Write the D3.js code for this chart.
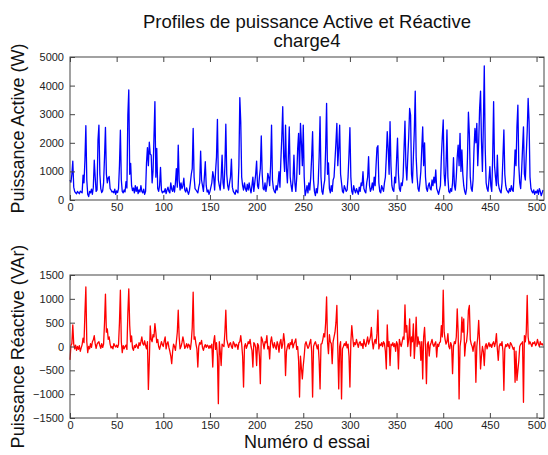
<!DOCTYPE html>
<html>
<head>
<meta charset="utf-8">
<script src="https://cdn.jsdelivr.net/npm/d3@7"></script>
<style>
  html, body { margin: 0; padding: 0; background: #fff; }
  svg { display: block; }
  text { font-family: "Liberation Sans", Arial, sans-serif; }
</style>
</head>
<body>
<svg id="chart" width="548" height="455"></svg>
<script>
// Active power per trial (W)
const activePower = [
  700, 620, 900, 1360, 450, 300, 250, 220, 300, 260,
  220, 310, 280, 250, 870, 600, 1400, 2600, 700, 200,
  120, 300, 250, 380, 200, 450, 1390, 800, 300, 350,
  2100, 2620, 900, 400, 260, 320, 600, 1500, 2540, 900,
  600, 780, 820, 400, 350, 280, 300, 250, 380, 200,
  320, 260, 400, 1200, 2440, 700, 300, 250, 350, 280,
  640, 420, 2970, 3850, 900, 1280, 500, 330, 420, 250,
  500, 300, 460, 220, 350, 280, 500, 300, 250, 380,
  200, 300, 1300, 1830, 1200, 2020, 1600, 1570, 600, 1000,
  2200, 3440, 800, 1800, 400, 300, 500, 1140, 350, 250,
  300, 280, 400, 220, 350, 450, 300, 250, 600, 380,
  300, 500, 280, 600, 1100, 450, 1920, 700, 350, 600,
  400, 500, 760, 350, 280, 420, 300, 200, 330, 600,
  900, 1100, 2500, 800, 400, 350, 300, 250, 450, 600,
  1710, 700, 500, 300, 800, 1340, 500, 280, 350, 200,
  300, 450, 600, 990, 800, 350, 1000, 1500, 2820, 700,
  500, 350, 800, 1570, 600, 400, 1200, 2650, 900, 500,
  350, 600, 800, 1430, 450, 300, 250, 200, 350, 300,
  250, 1200, 3580, 2740, 800, 500, 350, 600, 400, 300,
  550, 350, 600, 400, 250, 500, 800, 300, 600, 900,
  1360, 500, 400, 800, 1100, 2240, 900, 400, 350, 600,
  300, 500, 930, 800, 500, 1200, 2620, 700, 400, 300,
  250, 500, 350, 600, 990, 450, 1400, 2200, 3260, 1500,
  1000, 2620, 1100, 600, 1500, 2560, 800, 500, 300, 700,
  1570, 600, 300, 800, 1800, 2330, 900, 2680, 2000, 1200,
  2620, 800, 150, 300, 500, 250, 600, 350, 800, 1500,
  2390, 700, 300, 150, 400, 250, 600, 1500, 2910, 800,
  300, 200, 500, 700, 1800, 3380, 900, 1300, 400, 250,
  500, 300, 700, 800, 1400, 2000, 2680, 1200, 1800, 2620,
  900, 600, 300, 250, 500, 400, 300, 350, 800, 1600,
  2530, 800, 300, 200, 500, 350, 250, 400, 300, 200,
  450, 300, 600, 500, 990, 400, 300, 250, 600, 800,
  1520, 500, 300, 400, 600, 350, 800, 500, 1200, 1830,
  1900, 600, 300, 250, 500, 400, 300, 600, 800, 1500,
  2390, 1800, 900, 2740, 1200, 500, 350, 300, 800, 600,
  1400, 2160, 900, 400, 300, 600, 500, 800, 1800, 2760,
  1200, 700, 1500, 2200, 3200, 2970, 900, 600, 1500, 2400,
  3810, 1500, 800, 400, 300, 600, 1000, 1800, 2560, 1200,
  2000, 800, 400, 300, 500, 600, 400, 350, 700, 500,
  800, 600, 1050, 400, 300, 200, 350, 500, 1500, 2200,
  2800, 900, 500, 1200, 2450, 800, 300, 250, 400, 300,
  600, 1480, 500, 350, 800, 1500, 1920, 1200, 2330, 1000,
  1750, 900, 500, 300, 200, 400, 1500, 3070, 2330, 800,
  400, 300, 700, 1800, 2500, 2000, 2680, 1200, 2000, 3200,
  3810, 2040, 1000, 2600, 4690, 1800, 600, 400, 300, 700,
  1170, 500, 300, 1500, 3440, 1200, 800, 500, 1570, 600,
  400, 300, 250, 600, 1500, 2450, 900, 500, 350, 300,
  250, 400, 300, 500, 350, 300, 900, 1750, 1200, 2560,
  3320, 1200, 600, 400, 1000, 1800, 2560, 900, 700, 1600,
  2400, 3550, 2740, 800, 400, 300, 250, 350, 200, 300,
  250, 350, 200, 400, 300, 150, 250, 350
];

// Reactive power per trial (VAr)
const reactivePower = [
  -280, 20, 60, 455, 50, -50, 30, -80, 0, -60,
  20, -100, -30, 40, 175, 80, 700, 1250, 100, -130,
  0, -50, 60, -20, 100, 140, 230, 60, -40, 50,
  80, 100, 20, -40, 60, -20, 50, 500, 1100, 300,
  370, 150, 200, 50, -30, 0, -50, 60, 20, -10,
  30, -20, 40, 500, 1180, 100, -130, 20, -50, 0,
  30, -60, 700, 1210, 440, 100, 220, -30, -80, 20,
  -20, 50, 0, -40, 80, 20, 100, 200, 60, 30,
  120, 20, -50, 100, -900, -300, 430, 150, 100, 250,
  200, 480, 300, 80, 150, 0, -60, 20, 100, 40,
  0, 120, 200, -50, 60, 100, -20, -100, -200, -360,
  -100, 50, 0, -80, 100, 300, 760, 200, -50, 0,
  80, 200, 100, -40, 0, 60, -30, 50, 20, -60,
  100, 400, 1140, 150, 200, 50, -50, -430, 0, 80,
  50, 130, -20, -80, 0, 40, -20, 30, 10, -40,
  20, -30, 50, -430, 100, 230, -60, 80, -200, -1200,
  100, -100, -400, 50, 20, 0, 300, 760, 150, 60,
  -20, 50, 80, 0, -40, 100, 60, -10, 50, 30,
  -60, 80, 100, 230, 50, -200, -850, 0, 60, -40,
  20, 100, 60, 150, 0, -80, -430, 80, 50, -20,
  -400, 60, 20, -200, -780, 200, 150, 60, -50, 100,
  80, 230, -50, 0, -260, 100, 200, 50, -30, 80,
  0, -60, 100, 40, -120, 80, 150, -40, 50, 270,
  100, -610, -100, 0, 60, -50, 80, 40, 150, -30,
  50, 100, 160, -60, 0, -300, -1060, -200, -450, -680,
  -400, -200, 50, 100, 20, -40, 0, 80, 150, -100,
  -1060, 0, 60, 100, 30, -50, 40, -300, -890, 50,
  60, 150, 270, 200, 500, 1040, 100, -150, 250, 100,
  60, -360, 100, 200, 300, 500, 860, -50, -890, 0,
  100, -1100, -50, 0, 60, 20, 100, -30, 50, -200,
  -850, 100, 440, 200, 0, 80, 40, 150, 60, -20,
  80, 100, 20, 60, -40, 150, 50, 0, 100, 200,
  50, 120, 200, 400, 100, -50, 80, 150, 60, 270,
  760, -50, 50, 20, 80, 0, 100, 60, -100, -470,
  455, 0, 100, -400, 50, 20, 80, 0, 60, -100,
  100, 50, -470, 150, 60, 0, 100, 200, 150, 875,
  300, 440, 0, 150, 580, -200, 200, 100, 475, -250,
  100, 615, 0, 200, 50, 100, -290, 100, -680, 200,
  400, 0, -780, 50, 100, -200, 20, 80, 150, 40,
  0, 60, 100, -220, 50, 0, 80, 100, 440, 200,
  1180, 300, 150, 50, 100, 270, 0, -50, 80, 20,
  -570, 0, 100, 60, 200, 790, 300, -1100, 0, 150,
  615, 300, 580, -200, 50, 100, 300, 760, 860, 150,
  50, 0, -100, 60, 100, -750, 0, 200, 550, 100,
  -470, -200, 0, -100, -400, 0, 60, -50, 20, 80,
  0, 50, -20, 60, 100, 0, 80, 270, -50, -290,
  0, 60, 20, 100, -100, -920, -50, 40, 0, 60,
  20, -40, 80, 50, 0, -60, -20, -750, -100, -710,
  -500, -300, 0, 50, 60, 100, -1170, 230, 100, 300,
  1070, 200, 50, 100, 50, 0, 80, 60, 100, 20,
  50, 150, 60, 0, 100, 40, 60, 20
];

const trialTicks = [0, 50, 100, 150, 200, 250, 300, 350, 400, 450, 500];
const activeTicks = [0, 1000, 2000, 3000, 4000, 5000];
const reactiveTicks = [-1500, -1000, -500, 0, 500, 1000, 1500];

const titleLines = ["Profiles de puissance Active et Réactive", "charge4"];
const activeLabel = "Puissance Active (W)";
const reactiveLabel = "Puissance Réactive (VAr)";
const trialLabel = "Numéro d essai";

const svg = d3.select("#chart");
const left = 70, right = 544;
const axisColor = "#444";
const tickLen = 5;
const fmt = d3.format("d");

const x = d3.scaleLinear().domain([0, 508]).range([left, right]);

function panel(values, yDomain, yTicks, top, bottom, color, ylabel) {
  const y = d3.scaleLinear().domain(yDomain).range([bottom, top]);
  const g = svg.append("g");

  // data trace
  const line = d3.line().x((d, i) => x(i)).y(d => y(d));
  g.append("path")
    .datum(values)
    .attr("fill", "none")
    .attr("stroke", color)
    .attr("stroke-width", 1.3)
    .attr("stroke-linejoin", "round")
    .attr("d", line);

  // bottom axis with labels, inward ticks
  const xb = g.append("g").attr("transform", `translate(0,${bottom})`)
    .call(d3.axisBottom(x).tickValues(trialTicks).tickFormat(fmt)
      .tickSizeInner(-tickLen).tickSizeOuter(0).tickPadding(3));
  // top axis, ticks only
  const xt = g.append("g").attr("transform", `translate(0,${top})`)
    .call(d3.axisTop(x).tickValues(trialTicks).tickSizeInner(-tickLen).tickSizeOuter(0).tickFormat(""));
  // left axis with labels
  const yl = g.append("g").attr("transform", `translate(${left},0)`)
    .call(d3.axisLeft(y).tickValues(yTicks).tickFormat(fmt)
      .tickSizeInner(-tickLen).tickSizeOuter(0).tickPadding(6));
  // right axis, ticks only
  const yr = g.append("g").attr("transform", `translate(${right},0)`)
    .call(d3.axisRight(y).tickValues(yTicks).tickSizeInner(-tickLen).tickSizeOuter(0).tickFormat(""));

  [xb, xt, yl, yr].forEach(a => {
    a.select(".domain").remove();
    a.selectAll("line").attr("stroke", axisColor);
    a.selectAll("text").attr("font-size", 11).attr("fill", "#222")
      .attr("font-family", "'Liberation Sans', Arial, sans-serif");
  });

  // frame
  g.append("rect")
    .attr("x", left).attr("y", top)
    .attr("width", right - left).attr("height", bottom - top)
    .attr("fill", "none").attr("stroke", axisColor).attr("stroke-width", 1);

  // y label
  svg.append("text")
    .attr("transform", `translate(24,${(top + bottom) / 2}) rotate(-90)`)
    .attr("text-anchor", "middle")
    .attr("font-size", 18)
    .attr("fill", "#111")
    .text(ylabel);
}

panel(activePower, [0, 5000], activeTicks, 57, 200, "#0000ff", activeLabel);
panel(reactivePower, [-1500, 1500], reactiveTicks, 275, 418, "#ff0000", reactiveLabel);

// title
svg.append("text")
  .attr("x", (left + right) / 2).attr("y", 28)
  .attr("text-anchor", "middle").attr("font-size", 18.5).attr("fill", "#111")
  .text(titleLines[0]);
svg.append("text")
  .attr("x", (left + right) / 2).attr("y", 47)
  .attr("text-anchor", "middle").attr("font-size", 18.5).attr("fill", "#111")
  .text(titleLines[1]);

// x label
svg.append("text")
  .attr("x", (left + right) / 2).attr("y", 448)
  .attr("text-anchor", "middle").attr("font-size", 18).attr("fill", "#111")
  .text(trialLabel);
</script>
</body>
</html>
